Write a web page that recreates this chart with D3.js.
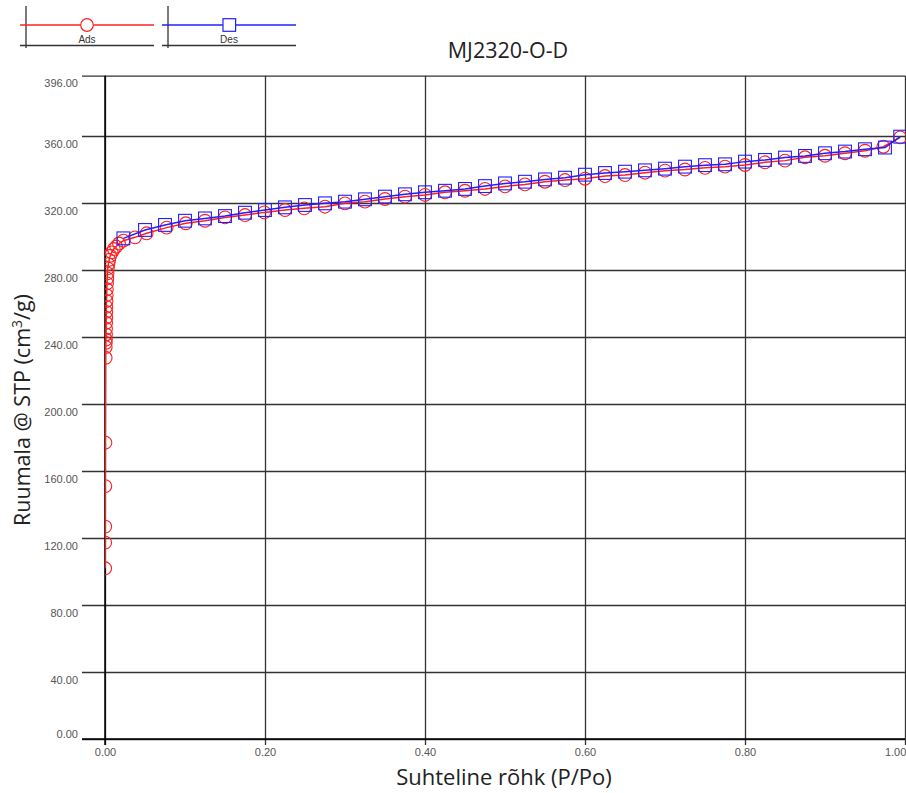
<!DOCTYPE html>
<html>
<head>
<meta charset="utf-8">
<script src="https://cdn.jsdelivr.net/npm/d3@7"></script>
<style>
  html, body { margin: 0; padding: 0; background: #fff; }
  svg { display: block; }
</style>
</head>
<body>
<svg id="chart" width="906" height="793"></svg>
<script>
// Isotherm MJ2320-O-D: adsorption (red circles) and desorption (blue squares)
const chartTitle = "MJ2320-O-D";
const xTitle = "Suhteline rõhk (P/Po)";
const seriesNames = ["Ads", "Des"];

const xTicks = [0, 0.2, 0.4, 0.6, 0.8, 1.0];
const yTicks = [0, 40, 80, 120, 160, 200, 240, 280, 320, 360, 396];

// Adsorption branch: relative pressure and volume adsorbed
const adsP = [
  0.0002, 0.0002, 0.0003, 0.0004, 0.0005, 0.0008, 0.0009, 0.0010, 0.0011, 0.0012,
  0.0013, 0.0014, 0.0015, 0.0016, 0.0017, 0.0019, 0.0021, 0.0023, 0.0025, 0.0028,
  0.0031, 0.0035, 0.0042, 0.0052, 0.0065, 0.0085, 0.0110, 0.0140, 0.0175, 0.0230,
  0.0375, 0.052, 0.077, 0.101, 0.125, 0.150, 0.175, 0.199, 0.225, 0.249,
  0.275, 0.300, 0.325, 0.350, 0.375, 0.400, 0.425, 0.450, 0.475, 0.500,
  0.525, 0.550, 0.575, 0.600, 0.625, 0.650, 0.675, 0.700, 0.725, 0.750,
  0.775, 0.800, 0.825, 0.850, 0.875, 0.900, 0.925, 0.950, 0.973, 0.994
];
const adsV = [
  101.9, 117.2, 126.8, 151.0, 176.9, 227.6, 234.0, 236.5, 238.5, 241.5,
  245.0, 248.5, 251.5, 255.0, 258.0, 261.5, 265.0, 268.5, 272.0, 275.0,
  278.0, 281.0, 283.5, 286.0, 288.5, 290.5, 292.5, 294.0, 295.8, 297.5,
  299.5, 301.9, 305.3, 307.9, 309.4, 311.4, 312.8, 314.4, 315.8, 316.8,
  317.8, 319.8, 320.8, 322.4, 323.8, 324.8, 326.4, 327.3, 328.4, 329.9,
  331.1, 332.7, 333.7, 334.5, 336.1, 336.7, 338.1, 339.3, 340.0, 341.0,
  341.7, 342.7, 344.3, 345.3, 347.3, 348.2, 349.7, 351.2, 353.6, 359.2
];

// Desorption branch, from high to low pressure
const desP = [
  0.994, 0.975, 0.950, 0.925, 0.900, 0.875, 0.850, 0.825, 0.800, 0.775,
  0.750, 0.725, 0.700, 0.675, 0.650, 0.625, 0.600, 0.575, 0.550, 0.525,
  0.500, 0.475, 0.450, 0.425, 0.400, 0.375, 0.350, 0.325, 0.300, 0.275,
  0.250, 0.225, 0.200, 0.175, 0.150, 0.125, 0.100, 0.075, 0.050, 0.023
];
const desV = [
  359.6, 353.1, 352.1, 350.7, 349.7, 348.1, 347.1, 345.7, 344.7, 343.1,
  342.6, 341.7, 340.5, 339.5, 338.7, 337.9, 336.9, 335.1, 334.1, 332.7,
  331.7, 330.1, 328.4, 327.3, 326.4, 325.2, 323.8, 322.2, 320.8, 319.8,
  318.8, 317.4, 315.8, 314.2, 312.2, 310.8, 309.4, 306.9, 303.9, 298.9
];

const adsColor = "#ff2020";
const desColor = "#2020ff";

const svg = d3.select("#chart");
const plot = { left: 105, right: 905, top: 75.7, bottom: 739 };

const x = d3.scaleLinear().domain([0, 1]).range([plot.left, plot.right]);
const y = d3.scaleLinear().domain([0, 396]).range([plot.bottom, plot.top]);

const fmt = d3.format(".2f");

// Horizontal grid + y tick labels
const gy = svg.append("g")
  .attr("transform", "translate(82,0)")
  .call(d3.axisLeft(y).tickValues(yTicks).tickFormat(fmt)
    .tickSize(-(plot.right - 82)).tickPadding(4));
gy.select(".domain").remove();
gy.selectAll(".tick line").attr("stroke", "#333").attr("stroke-width", 1.3);
gy.selectAll(".tick text")
  .attr("fill", "#555").attr("font-family", "Arial, 'Liberation Sans', sans-serif")
  .attr("font-size", 11)
  .attr("dy", d => d === 0 ? "-0.15em" : "1em");

// Vertical grid + x tick labels
const gx = svg.append("g")
  .attr("transform", `translate(0,745)`)
  .call(d3.axisBottom(x).tickValues(xTicks).tickFormat(fmt)
    .tickSize(-(745 - plot.top)).tickPadding(3));
gx.select(".domain").remove();
gx.selectAll(".tick line").attr("stroke", "#333").attr("stroke-width", 1.3);
gx.selectAll(".tick text")
  .attr("fill", "#555").attr("font-family", "Arial, 'Liberation Sans', sans-serif")
  .attr("font-size", 11)
  .attr("dx", d => d === 1 ? "-0.9em" : "0");

// Main axis lines
svg.append("line")
  .attr("x1", x(0)).attr("x2", x(0)).attr("y1", plot.top).attr("y2", 745)
  .attr("stroke", "#000").attr("stroke-width", 1.5);
svg.append("line")
  .attr("x1", 82).attr("x2", plot.right).attr("y1", y(0)).attr("y2", y(0))
  .attr("stroke", "#000").attr("stroke-width", 1.5);

// Clip region for the data
svg.append("defs").append("clipPath").attr("id", "plotClip")
  .append("rect")
  .attr("x", plot.left).attr("y", plot.top)
  .attr("width", 906 - plot.left).attr("height", plot.bottom - plot.top);

const dataG = svg.append("g").attr("clip-path", "url(#plotClip)");
const line = d3.line().x(d => x(d[0])).y(d => y(d[1]));

const ads = adsP.map((p, i) => [p, adsV[i]]);
const des = desP.map((p, i) => [p, desV[i]]);

// Adsorption
dataG.append("path").datum(ads).attr("d", line)
  .attr("fill", "none").attr("stroke", adsColor).attr("stroke-width", 1.5);
dataG.selectAll("circle.ads").data(ads).join("circle")
  .attr("class", "ads")
  .attr("cx", d => x(d[0])).attr("cy", d => y(d[1])).attr("r", 6.4)
  .attr("fill", "none").attr("stroke", adsColor).attr("stroke-width", 1.1);

// Desorption
dataG.append("path").datum(des).attr("d", line)
  .attr("fill", "none").attr("stroke", desColor).attr("stroke-width", 1.5);
dataG.selectAll("rect.des").data(des).join("rect")
  .attr("class", "des")
  .attr("x", d => x(d[0]) - 6.4).attr("y", d => y(d[1]) - 6.4)
  .attr("width", 12.8).attr("height", 12.8)
  .attr("fill", "none").attr("stroke", desColor).attr("stroke-width", 1.1);

// Title
svg.append("text")
  .attr("x", 508).attr("y", 58).attr("text-anchor", "middle")
  .attr("font-family", "'Open Sans', sans-serif").attr("font-size", 21.5)
  .attr("fill", "#222").text(chartTitle);

// Axis titles
svg.append("text")
  .attr("x", 504).attr("y", 785).attr("text-anchor", "middle")
  .attr("font-family", "'Open Sans', sans-serif").attr("font-size", 22)
  .attr("fill", "#222").text(xTitle);

const yt = svg.append("text")
  .attr("transform", "translate(30,410) rotate(-90)")
  .attr("text-anchor", "middle")
  .attr("font-family", "'Open Sans', sans-serif").attr("font-size", 21.5)
  .attr("fill", "#222");
yt.append("tspan").text("Ruumala @ STP (cm");
yt.append("tspan").attr("font-size", 14).attr("dy", -8).text("3");
yt.append("tspan").attr("dy", 8).text("/g)");

// Legend
const legendItems = [
  { name: seriesNames[0], color: adsColor, shape: "circle", x0: 20, x1: 154, vx: 26 },
  { name: seriesNames[1], color: desColor, shape: "square", x0: 162, x1: 296, vx: 168 }
];
const lg = svg.append("g");
legendItems.forEach(it => {
  const cx = (it.x0 + it.x1) / 2 + 1;
  lg.append("line").attr("x1", it.vx).attr("x2", it.vx).attr("y1", 6).attr("y2", 48)
    .attr("stroke", "#222").attr("stroke-width", 1.2);
  lg.append("line").attr("x1", it.x0).attr("x2", it.x1).attr("y1", 45.5).attr("y2", 45.5)
    .attr("stroke", "#333").attr("stroke-width", 1.3);
  lg.append("line").attr("x1", it.x0).attr("x2", it.x1).attr("y1", 25).attr("y2", 25)
    .attr("stroke", it.color).attr("stroke-width", 1.3);
  if (it.shape === "circle") {
    lg.append("circle").attr("cx", cx - 1).attr("cy", 25).attr("r", 6.3)
      .attr("fill", "#fff").attr("stroke", it.color).attr("stroke-width", 1.2);
  } else {
    lg.append("rect").attr("x", cx - 7).attr("y", 18.7).attr("width", 12.6).attr("height", 12.6)
      .attr("fill", "#fff").attr("stroke", it.color).attr("stroke-width", 1.2);
  }
  lg.append("text").attr("x", cx - 1).attr("y", 43).attr("text-anchor", "middle")
    .attr("font-family", "Arial, 'Liberation Sans', sans-serif").attr("font-size", 10)
    .attr("fill", "#333").text(it.name);
});
</script>
</body>
</html>
